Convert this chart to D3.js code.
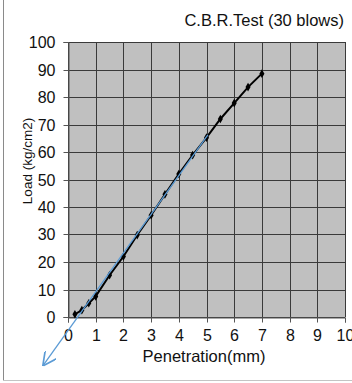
<!DOCTYPE html>
<html>
<head>
<meta charset="utf-8">
<script src="https://cdn.jsdelivr.net/npm/d3@7"></script>
<style>
html,body{margin:0;padding:0;background:#fff;}
svg{display:block;font-family:"Liberation Sans",Arial,sans-serif;}
</style>
</head>
<body>
<svg id="c" width="352" height="383"></svg>
<script>
const penetration = [0.25, 0.5, 0.75, 1, 1.5, 2, 2.5, 3, 3.5, 4, 4.5, 5, 5.5, 6, 6.5, 7];
const load = [1, 2.5, 5, 7.5, 15.2, 22, 29.8, 37, 44.6, 52, 58.9, 65.2, 72, 77.8, 83.6, 88.5];
const correctionX = [5.05, -0.91];
const correctionY = [66.2, -17.8];
const xTicks = [0,1,2,3,4,5,6,7,8,9,10];
const yTicks = [0,10,20,30,40,50,60,70,80,90,100];
const title = "C.B.R.Test (30 blows)";
const xTitle = "Penetration(mm)";
const yTitle = "Load (kg/cm2)";

const svg = d3.select("#c");
const x = d3.scaleLinear().domain([0,10]).range([68,345]);
const y = d3.scaleLinear().domain([0,100]).range([317,42]);

// frame
svg.append("line").attr("x1",3.5).attr("x2",3.5).attr("y1",0).attr("y2",380.5).attr("stroke","#8a8a8a");
svg.append("line").attr("x1",3.5).attr("x2",352).attr("y1",380.5).attr("y2",380.5).attr("stroke","#c4c4c4");

// plot bg
svg.append("rect").attr("x",x(0)).attr("y",y(100)).attr("width",x(10)-x(0)).attr("height",y(0)-y(100)).attr("fill","#c0c0c0");

// grid
const g = svg.append("g");
g.selectAll(".vg").data(xTicks).join("line")
  .attr("x1",d=>Math.round(x(d))+0.5).attr("x2",d=>Math.round(x(d))+0.5)
  .attr("y1",y(0)).attr("y2",y(100)).attr("stroke","#3a3a3a").attr("stroke-width",1);
g.selectAll(".hg").data(yTicks).join("line")
  .attr("y1",d=>Math.round(y(d))+0.5).attr("y2",d=>Math.round(y(d))+0.5)
  .attr("x1",x(0)).attr("x2",x(10)).attr("stroke","#3a3a3a").attr("stroke-width",1);

// axes
const xa = svg.append("g").attr("transform",`translate(0,${Math.round(y(0))+0.5})`)
  .call(d3.axisBottom(x).tickValues(xTicks).tickSize(5).tickPadding(7).tickFormat(d3.format("d")));
const ya = svg.append("g").attr("transform",`translate(${Math.round(x(0))+0.5},0)`)
  .call(d3.axisLeft(y).tickValues(yTicks).tickSize(5).tickPadding(8).tickFormat(d3.format("d")));
[xa,ya].forEach(a=>{
  a.select(".domain").attr("stroke","#555");
  a.selectAll(".tick line").attr("stroke","#555");
  a.selectAll("text").attr("font-size","16px").attr("fill","#111").attr("font-family","Liberation Sans, Arial, sans-serif");
});
ya.selectAll(".tick line").attr("transform",null);
xa.selectAll(".tick").attr("transform",d=>`translate(${Math.round(x(d))+0.5},0)`);
ya.selectAll(".tick").attr("transform",d=>`translate(0,${Math.round(y(d))+0.5})`);

// data line
const line = d3.line().x((d,i)=>x(penetration[i])).y(d=>y(d));
svg.append("path").datum(load).attr("d",line).attr("fill","none").attr("stroke","#000").attr("stroke-width",2);
const diamond = d3.symbol().type(d3.symbolDiamond).size(22);
svg.selectAll(".pt").data(load).join("path")
  .attr("d",diamond).attr("transform",(d,i)=>`translate(${x(penetration[i])},${y(d)})`).attr("fill","#000");

// correction line with arrow
svg.append("defs").append("marker").attr("id","arr")
  .attr("viewBox","0 0 10 10").attr("refX",10).attr("refY",5)
  .attr("markerWidth",14).attr("markerHeight",14).attr("markerUnits","userSpaceOnUse").attr("orient","auto")
  .append("path").attr("d","M0,0 L10,5 L0,10").attr("fill","none").attr("stroke","#5b9bd5").attr("stroke-width",1.2);
const cl = d3.line().x((d,i)=>x(correctionX[i])).y(d=>y(d));
svg.append("path").datum(correctionY).attr("d",cl).attr("fill","none").attr("stroke","#5b9bd5").attr("stroke-width",1.3).attr("marker-end","url(#arr)");

// titles
svg.append("text").attr("x",344).attr("y",26).attr("text-anchor","end").attr("font-size","16.5px").attr("fill","#111").text(title);
svg.append("text").attr("x",204).attr("y",362).attr("text-anchor","middle").attr("font-size","16.5px").attr("fill","#111").text(xTitle);
svg.append("text").attr("transform","translate(32,161) rotate(-90)").attr("text-anchor","middle").attr("font-size","13.5px").attr("fill","#111").text(yTitle);
</script>
</body>
</html>
